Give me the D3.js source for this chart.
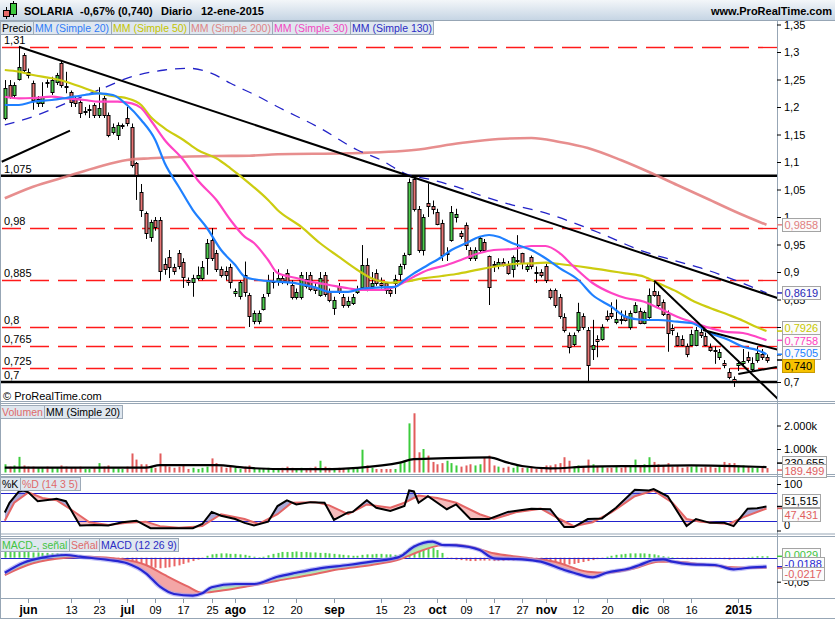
<!DOCTYPE html>
<html><head><meta charset="utf-8">
<script src="https://cdnjs.cloudflare.com/ajax/libs/d3/7.8.5/d3.min.js"></script>
<style>
html,body{margin:0;padding:0;background:#fff;}
svg{display:block;font-family:"Liberation Sans",Arial,Helvetica,sans-serif;}
</style></head><body>
<svg id="chart" width="835" height="620"></svg>
<script>
// ================= DATA =================
const firstDay = '2014-05-26', lastDay = '2015-01-12';
const holidays = ['2014-12-25','2014-12-26','2015-01-01'];

const openP = [
1.180,1.240,1.222,1.252,1.295,1.264,1.244,1.207,1.207,1.246,
1.227,1.245,1.280,1.238,1.227,1.216,1.209,1.193,1.195,1.204,
1.185,1.216,1.185,1.155,1.149,1.167,1.180,1.164,1.098,1.045,
1.007,0.964,0.995,0.995,0.915,0.928,0.909,0.934,0.919,0.885,
0.881,0.889,0.889,0.925,0.958,0.934,0.905,0.902,0.909,0.861,
0.855,0.895,0.858,0.810,0.810,0.834,0.861,0.882,0.884,0.889,
0.899,0.876,0.855,0.855,0.887,0.895,0.872,0.860,0.895,0.864,
0.834,0.874,0.855,0.840,0.845,0.865,0.873,0.913,0.875,0.899,
0.880,0.880,0.867,0.880,0.895,0.913,0.934,1.069,1.014,0.940,
1.025,1.020,1.010,0.989,0.935,0.960,1.000,0.971,0.985,0.940,
0.925,0.940,0.955,0.929,0.915,0.913,0.918,0.913,0.907,0.920,
0.934,0.905,0.928,0.900,0.900,0.910,0.867,0.867,0.855,0.819,
0.785,0.768,0.795,0.820,0.795,0.759,0.779,0.779,0.820,0.825,
0.809,0.814,0.820,0.800,0.828,0.829,0.808,0.819,0.866,0.859,
0.845,0.823,0.799,0.784,0.779,0.765,0.768,0.768,0.790,0.784,
0.764,0.758,0.745,0.734,0.719,0.705,0.730,0.735,0.745,0.725,
0.740,0.751,0.745];
const highP = [
1.249,1.249,1.245,1.310,1.298,1.270,1.248,1.220,1.245,1.250,
1.255,1.262,1.285,1.264,1.230,1.220,1.215,1.200,1.204,1.207,
1.236,1.220,1.190,1.170,1.172,1.170,1.200,1.170,1.100,1.060,
1.010,0.995,1.000,1.000,0.925,0.940,0.915,0.940,0.925,0.890,
0.895,0.910,0.920,0.960,0.980,0.940,0.910,0.910,0.915,0.870,
0.885,0.919,0.862,0.830,0.830,0.860,0.895,0.900,0.905,0.895,
0.905,0.885,0.870,0.900,0.900,0.900,0.880,0.900,0.900,0.870,
0.855,0.880,0.860,0.855,0.860,0.875,0.949,0.925,0.900,0.905,
0.890,0.880,0.870,0.895,0.915,0.935,1.070,1.075,1.020,1.005,
1.061,1.030,1.015,0.995,0.945,1.020,1.015,0.975,0.990,0.945,
0.945,0.965,0.960,0.930,0.920,0.925,0.925,0.920,0.930,0.967,
0.935,0.915,0.930,0.910,0.905,0.915,0.870,0.870,0.860,0.825,
0.790,0.790,0.844,0.825,0.800,0.813,0.785,0.805,0.830,0.845,
0.850,0.830,0.830,0.830,0.845,0.835,0.830,0.870,0.884,0.865,
0.850,0.830,0.805,0.790,0.785,0.770,0.795,0.800,0.800,0.790,
0.770,0.765,0.760,0.740,0.725,0.710,0.740,0.760,0.755,0.745,
0.765,0.760,0.750];
const lowP = [
1.176,1.215,1.215,1.248,1.262,1.252,1.195,1.200,1.200,1.235,
1.222,1.240,1.235,1.225,1.200,1.200,1.180,1.185,1.180,1.180,
1.180,1.180,1.145,1.150,1.140,1.160,1.165,1.090,1.031,1.000,
0.960,0.955,0.975,0.885,0.895,0.889,0.895,0.905,0.871,0.875,
0.855,0.885,0.885,0.895,0.920,0.900,0.890,0.885,0.870,0.855,
0.850,0.855,0.800,0.805,0.805,0.830,0.855,0.870,0.875,0.878,
0.876,0.850,0.850,0.850,0.870,0.865,0.860,0.855,0.855,0.845,
0.822,0.860,0.835,0.835,0.840,0.860,0.870,0.865,0.870,0.875,
0.870,0.860,0.855,0.860,0.885,0.905,0.930,1.010,0.935,0.930,
1.000,1.005,0.985,0.920,0.920,0.955,0.990,0.960,0.940,0.920,
0.920,0.935,0.940,0.840,0.900,0.905,0.910,0.895,0.890,0.910,
0.905,0.900,0.905,0.880,0.890,0.880,0.850,0.835,0.815,0.790,
0.752,0.765,0.790,0.795,0.700,0.740,0.745,0.775,0.810,0.815,
0.805,0.805,0.810,0.795,0.825,0.805,0.805,0.815,0.855,0.835,
0.820,0.755,0.785,0.765,0.765,0.745,0.765,0.765,0.780,0.765,
0.755,0.733,0.740,0.725,0.705,0.691,0.720,0.730,0.735,0.720,
0.735,0.740,0.735];
const closeP = [
1.235,1.218,1.240,1.273,1.267,1.258,1.213,1.215,1.218,1.244,
1.249,1.258,1.240,1.236,1.209,1.207,1.189,1.193,1.196,1.185,
1.198,1.185,1.149,1.164,1.167,1.168,1.171,1.095,1.076,1.013,
0.971,0.991,0.983,0.902,0.905,0.910,0.901,0.910,0.891,0.881,
0.889,0.895,0.909,0.953,0.925,0.905,0.895,0.895,0.881,0.865,
0.881,0.864,0.819,0.825,0.825,0.855,0.885,0.884,0.890,0.884,
0.882,0.855,0.864,0.895,0.875,0.870,0.866,0.890,0.860,0.849,
0.849,0.865,0.840,0.848,0.855,0.870,0.913,0.873,0.880,0.880,
0.877,0.867,0.862,0.888,0.910,0.930,1.064,1.014,0.940,1.000,
1.019,1.014,0.989,0.931,0.935,1.010,1.005,0.965,0.949,0.925,
0.940,0.961,0.940,0.873,0.913,0.918,0.913,0.898,0.928,0.922,
0.916,0.910,0.912,0.898,0.895,0.885,0.855,0.840,0.820,0.795,
0.764,0.785,0.828,0.800,0.731,0.767,0.775,0.800,0.814,0.820,
0.814,0.813,0.812,0.826,0.840,0.808,0.828,0.859,0.859,0.840,
0.823,0.789,0.795,0.768,0.768,0.751,0.788,0.795,0.785,0.768,
0.759,0.757,0.754,0.730,0.710,0.702,0.734,0.738,0.740,0.735,
0.752,0.745,0.740];
// volume, thousands of shares
const volumeK = [
350,250,300,665,300,250,250,200,200,250,
200,220,300,250,200,200,250,150,150,200,
400,250,300,200,180,150,250,810,550,350,
350,250,200,810,300,250,200,250,300,150,
200,150,200,250,600,400,250,200,250,200,
150,250,300,200,150,150,200,150,150,200,
250,200,150,200,150,200,250,500,250,200,
150,200,150,150,150,150,970,300,200,150,
150,150,150,150,400,500,2090,2520,860,1000,
720,450,350,400,500,400,300,250,300,350,
300,350,620,720,300,250,200,250,200,300,
200,200,250,150,150,300,300,350,400,650,
500,250,300,250,550,350,250,250,200,200,
250,200,250,300,550,300,350,650,450,350,
300,400,250,300,200,250,250,300,200,250,
250,200,300,450,400,400,300,300,250,200,
200,250,189.499];
// [day index, value] readings of the moving averages
const sma20 = [[0,1.2036],[3,1.2036],[6,1.2096],[10,1.2127],[13,1.2164],[17,1.2218],[20,1.2249],[23,1.2218],[26,1.2036],[29,1.1764],[32,1.14],[34,1.0982],[37,1.0551],[40,1.0127],[43,0.98],[46,0.94],[49,0.9127],[51,0.8915],[54,0.8855],[58,0.8824],[62,0.8794],[66,0.872],[69,0.864],[73,0.864],[76,0.87],[80,0.872],[83,0.873],[85,0.8855],[87,0.8976],[90,0.9127],[93,0.9278],[95,0.94],[98,0.9521],[101,0.9642],[103,0.9673],[105,0.9642],[108,0.9521],[112,0.94],[115,0.925],[118,0.907],[122,0.8855],[125,0.8582],[129,0.837],[132,0.8188],[136,0.8127],[139,0.8127],[143,0.8096],[146,0.8073],[150,0.789],[154,0.7764],[157,0.7642],[160,0.7582],[162,0.7505]];
const sma50 = [[0,1.2673],[3,1.2642],[6,1.2582],[10,1.2522],[13,1.246],[17,1.234],[20,1.2249],[24,1.2187],[26,1.2158],[29,1.2036],[31,1.1824],[34,1.1613],[38,1.14],[41,1.1218],[45,1.1067],[48,1.0885],[52,1.0613],[56,1.0309],[58,1.0127],[63,0.9824],[67,0.9527],[71,0.9278],[75,0.9036],[78,0.8885],[82,0.8805],[85,0.8824],[89,0.8885],[93,0.8927],[96,0.8964],[101,0.9049],[105,0.9109],[108,0.9145],[112,0.9158],[115,0.9169],[118,0.9145],[125,0.9067],[132,0.8976],[136,0.8915],[139,0.8794],[143,0.8642],[146,0.8491],[150,0.8345],[154,0.8218],[157,0.8115],[160,0.7995],[162,0.7926]];
const sma200 = [[0,1.034],[6,1.0551],[13,1.0733],[20,1.0915],[26,1.1036],[31,1.1067],[38,1.1096],[45,1.1109],[52,1.1115],[58,1.114],[73,1.1158],[87,1.1218],[97,1.1345],[105,1.1418],[112,1.1436],[118,1.1364],[124,1.1255],[131,1.1036],[137,1.0818],[143,1.0582],[150,1.0309],[156,1.0073],[162,0.9858]];
const sma30 = [[0,1.2187],[3,1.2158],[6,1.2164],[10,1.2187],[13,1.2158],[17,1.2127],[20,1.2096],[24,1.2096],[27,1.2067],[29,1.1982],[31,1.1764],[34,1.14],[38,1.1036],[41,1.0673],[45,1.0309],[48,0.9945],[51,0.9642],[53,0.9527],[56,0.9218],[58,0.8982],[62,0.8891],[65,0.8824],[69,0.8764],[73,0.8704],[76,0.8673],[80,0.8673],[83,0.8733],[87,0.8915],[90,0.9036],[94,0.9127],[97,0.9218],[101,0.9345],[104,0.94],[108,0.9418],[112,0.9473],[115,0.9473],[118,0.9345],[121,0.9097],[125,0.88],[129,0.8618],[132,0.8527],[136,0.846],[139,0.8345],[143,0.8187],[146,0.8096],[150,0.7982],[153,0.7915],[157,0.7891],[160,0.7818],[162,0.7758]];
const sma130 = [[0,1.1673],[6,1.1824],[13,1.2067],[20,1.2309],[27,1.2551],[34,1.2673],[39,1.2704],[44,1.2613],[48,1.2431],[54,1.2187],[58,1.2005],[67,1.1618],[75,1.1218],[80,1.1036],[85,1.0795],[91,1.0673],[96,1.0551],[102,1.0369],[108,1.0218],[114,1.0096],[126,0.9727],[136,0.9369],[142,0.9218],[148,0.9073],[162,0.8619]];
const volumeMA20 = [[0,205],[30,205],[33,317],[45,317],[51,205],[61,140],[68,140],[75,200],[84,420],[87,565],[94,610],[103,640],[107,420],[110,275],[116,175],[124,250],[135,275],[146,300],[155,275],[162,230]];
const stochK = [[0,38.8],[1,59.7],[3,84],[4,86],[5,82],[7,63],[10,66.7],[11,68],[13,63],[16,10.7],[19,12],[22,10.7],[25,17.8],[28,21],[31,5],[35,5],[40,5],[42,14],[44,40],[46,31.7],[49,24.7],[51,16.4],[53,10.7],[56,19],[58,52.6],[60,65],[62,56],[65,61],[68,59.7],[70,23],[73,38.8],[74,40],[77,65],[79,49],[82,42],[85,52.6],[86,86],[87,84],[88,59.7],[90,73.6],[94,45.7],[96,56],[99,24.7],[103,24.7],[107,40],[112,47],[116,45.7],[119,7.3],[121,7.3],[124,24.7],[127,26],[130,49],[134,87.6],[137,86],[138,89],[141,73.6],[145,9.4],[147,24.7],[150,16.4],[153,16.4],[155,9.4],[158,47],[160,48],[162,51.515]];
const stochD = [[0,21],[2,59.7],[5,82],[8,70],[11,65],[14,45.7],[18,17.8],[22,12],[26,16.4],[30,19],[33,9.4],[37,5.9],[42,9.4],[46,35],[51,24.7],[54,14],[58,35],[61,59.7],[66,61],[69,54],[73,35],[77,56],[82,49],[85,59.7],[88,75],[92,70],[96,59.7],[101,35],[104,24.7],[109,40],[114,47],[118,24.7],[121,9.4],[125,17.8],[129,38.8],[134,73.6],[138,86],[142,59.7],[145,24.7],[148,19],[154,14],[157,28.3],[162,47.431]];
const macdLine = [[0,-0.0313],[4,-0.0104],[8,0.0],[13,0.0056],[16,0.0021],[22,-0.0048],[26,-0.0117],[30,-0.0325],[33,-0.0604],[36,-0.0756],[40,-0.0792],[42,-0.0742],[44,-0.0617],[49,-0.0548],[53,-0.0548],[58,-0.0396],[62,-0.0313],[67,-0.0221],[73,-0.0152],[78,-0.0083],[84,0.0021],[87,0.0229],[91,0.0333],[93,0.0265],[96,0.0255],[101,0.016],[104,-0.0013],[110,-0.0033],[114,-0.0083],[119,-0.0256],[121,-0.0313],[125,-0.0408],[128,-0.0313],[133,-0.0221],[135,-0.0152],[138,-0.0048],[140,-0.0033],[142,-0.0083],[146,-0.0138],[151,-0.0152],[155,-0.0242],[159,-0.02],[162,-0.0188]];
const macdSignal = [[0,-0.036],[6,-0.0117],[13,0.0],[18,0.002],[25,-0.0033],[30,-0.0152],[34,-0.036],[39,-0.0604],[42,-0.0729],[47,-0.0673],[52,-0.059],[58,-0.0479],[65,-0.036],[71,-0.0242],[78,-0.0152],[84,-0.0033],[88,0.0125],[93,0.0262],[96,0.027],[99,0.0229],[104,0.0092],[110,0.0008],[117,-0.0083],[124,-0.0292],[128,-0.0313],[134,-0.0221],[139,-0.0083],[143,-0.0083],[148,-0.0138],[155,-0.02],[162,-0.0217]];
const macdHist = [
0.012,0.012,0.013,0.013,0.012,0.012,0.011,0.011,0.010,0.010,0.009,0.009,0.008,0.007,0.006,
0.005,0.004,0.002,0.001,
-0.002,-0.003,-0.004,-0.005,-0.006,-0.007,-0.008,-0.009,-0.011,-0.013,-0.015,-0.017,-0.019,-0.021,-0.022,-0.021,-0.020,-0.018,-0.016,-0.013,-0.010,-0.007,-0.004,
-0.001,
0.004,0.007,0.008,0.009,0.009,0.008,0.008,0.007,0.006,0.004,
0.002,0.001,0.002,
0.005,0.008,0.010,0.012,0.012,0.012,0.013,0.012,0.012,0.011,0.011,0.010,0.010,0.009,0.008,0.007,0.006,0.005,
0.004,0.004,
0.006,0.007,0.007,0.008,0.008,0.007,0.007,0.006,0.007,
0.012,0.020,0.026,0.028,0.026,0.024,0.020,0.016,0.010,
-0.002,-0.003,-0.004,-0.005,-0.006,-0.007,-0.007,-0.006,-0.006,-0.006,-0.007,-0.007,-0.007,-0.006,-0.006,-0.005,-0.005,-0.006,-0.007,-0.008,-0.009,-0.010,-0.011,-0.012,-0.013,-0.014,-0.014,-0.013,-0.011,-0.009,-0.007,-0.005,-0.003,-0.001,
0.002,0.004,0.006,0.007,0.008,0.009,0.009,0.009,0.009,0.008,0.007,0.005,0.003,0.002,0.001,
-0.001,-0.002,-0.003,-0.003,-0.003,-0.002,-0.002,-0.002,-0.002,-0.002,-0.003,-0.004,-0.003,-0.002,-0.001,
0.001,0.002,0.003,0.003,0.0029];
// horizontal support/resistance levels and drawn trend lines
const redLevels = [1.31, 0.98, 0.885, 0.8, 0.765, 0.725];
const blackLevels = [1.075, 0.7];
const levelLabels = [[1.31,'1,31'],[1.075,'1,075'],[0.98,'0,98'],[0.885,'0,885'],[0.8,'0,8'],[0.765,'0,765'],[0.725,'0,725'],[0.7,'0,7']];
const trendStart = [[3,1.3096],[-0.66,1.1005],[138.1,0.8842],[148.5,0.7945],[156,0.7145]];
const trendEnd   = [[118.1,0.9836],[13.87,1.1569],[160.6,0.7005],[160.6,0.7673],[164.2,0.7273]];
const trendExtend = [true,false,true,true,false];
// axis ticks
const priceTicks = [1.35,1.3,1.25,1.2,1.15,1.1,1.05,1,0.95,0.9,0.85,0.8,0.75,0.7];
const volumeTicks = [1000,2000];
const stochTicks = [0,100];
const stochBands = [80,20];
const macdTicks = [-0.05];
const xTickDates = ['2014-06-02','2014-06-13','2014-06-23','2014-07-01','2014-07-09','2014-07-17','2014-07-25','2014-08-01','2014-08-12','2014-08-20','2014-09-01','2014-09-15','2014-09-23','2014-10-01','2014-10-09','2014-10-17','2014-10-27','2014-11-03','2014-11-12','2014-11-20','2014-12-01','2014-12-08','2014-12-16','2015-01-02'];
const xTickLabels = ['jun','13','23','jul','09','17','25','ago','12','20','sep','15','23','oct','09','17','27','nov','12','20','dic','08','16','2015'];
// last values shown at the right
const lastMA = [[0.9858,'0,9858','#e08080'],[0.8619,'0,8619','#2828b8'],[0.7926,'0,7926','#c8c800'],[0.7758,'0,7758','#ff3fc0'],[0.7505,'0,7505','#1f7fff']];
const lastPrice = 0.740, lastPriceLabel = '0,740';
const title = ['SOLARIA','-0,67% (0,740)','Diario','12-ene-2015'];

// ================= LAYOUT =================
const svg = d3.select('#chart');
const W = 835, H = 620, XR = 777;
const FRAME = '#97a6b5';
const LEG = 10.5;
const defs = svg.append('defs');

function tradingDays(a, b, hol) {
  const out = [], hs = new Set(hol);
  let d = new Date(a + 'T00:00:00Z');
  const e = new Date(b + 'T00:00:00Z');
  while (d <= e) {
    const s = d.toISOString().slice(0, 10), wd = d.getUTCDay();
    if (wd !== 0 && wd !== 6 && !hs.has(s)) out.push(s);
    d = new Date(d.getTime() + 86400000);
  }
  return out;
}
const dates = tradingDays(firstDay, lastDay, holidays);
const N = dates.length;
const x = d3.scaleLinear().domain([0, N - 1]).range([4.8, 766.5]);

const PP = {top: 20, bottom: 401}, PV = {top: 403, bottom: 474}, PS = {top: 476, bottom: 533.5}, PM = {top: 536, bottom: 598};
const yP = d3.scaleLinear().domain([0.7, 1.3]).range([382, 52]);
const yV = d3.scaleLinear().domain([0, 2000]).range([472.5, 425.5]);
const yS = d3.scaleLinear().domain([0, 100]).range([530.5, 484]);
const yM = d3.scaleLinear().domain([-0.05, 0]).range([581.7, 557.7]);

svg.append('rect').attr('width', W).attr('height', H).attr('fill', '#fff');

// title bar
const tg = defs.append('linearGradient').attr('id', 'tb').attr('x1', 0).attr('y1', 0).attr('x2', 0).attr('y2', 1);
tg.append('stop').attr('offset', '0%').attr('stop-color', '#f3f6f9');
tg.append('stop').attr('offset', '100%').attr('stop-color', '#c6d5e4');
svg.append('rect').attr('x', 0).attr('y', 0).attr('width', W).attr('height', 20).attr('fill', 'url(#tb)');
const ic = svg.append('g');
ic.append('line').attr('x1', 6.5).attr('x2', 6.5).attr('y1', 7).attr('y2', 19).attr('stroke', '#000');
ic.append('rect').attr('x', 3.5).attr('y', 10.5).attr('width', 6).attr('height', 6).attr('fill', '#e66a6a').attr('stroke', '#000');
ic.append('line').attr('x1', 13.5).attr('x2', 13.5).attr('y1', 1).attr('y2', 17).attr('stroke', '#000');
ic.append('rect').attr('x', 10.5).attr('y', 3.5).attr('width', 6).attr('height', 11).attr('fill', '#3fc93f').attr('stroke', '#000');
const tx = [24, 80, 161, 201];
title.forEach((t, k) => svg.append('text').attr('x', tx[k]).attr('y', 15).attr('font-size', 11).attr('font-weight', 'bold').attr('fill', '#000').text(t));
svg.append('text').attr('x', 832).attr('y', 15).attr('text-anchor', 'end').attr('font-size', 11).attr('font-weight', 'bold').attr('fill', '#000').text('www.ProRealTime.com');

// panel frames
[PP, PV, PS, PM].forEach((p, k) => {
  svg.append('line').attr('x1', 0).attr('x2', W).attr('y1', p.top + 0.5).attr('y2', p.top + 0.5).attr('stroke', FRAME);
  svg.append('line').attr('x1', 0).attr('x2', W).attr('y1', p.bottom + 0.5).attr('y2', p.bottom + 0.5).attr('stroke', FRAME);
  defs.append('clipPath').attr('id', 'clip' + k).append('rect').attr('x', 1).attr('y', p.top + 1).attr('width', XR - 1).attr('height', p.bottom - p.top - 1);
});
svg.append('line').attr('x1', 0.5).attr('x2', 0.5).attr('y1', 20).attr('y2', 618).attr('stroke', FRAME);
svg.append('line').attr('x1', XR + 0.5).attr('x2', XR + 0.5).attr('y1', 20).attr('y2', 618).attr('stroke', FRAME);
svg.append('line').attr('x1', 0).attr('x2', W).attr('y1', 618.5).attr('y2', 618.5).attr('stroke', FRAME);

function legend(y, items) {
  let cx = 0.5;
  items.forEach(it => {
    const g = svg.append('g');
    const r = g.append('rect').attr('x', cx).attr('y', y + 0.5).attr('height', 13).attr('fill', '#dfe7ef').attr('stroke', '#9daab8');
    const t = g.append('text').attr('x', cx + 1.5).attr('y', y + 11).attr('font-size', LEG).attr('fill', it[1]).text(it[0]);
    const w = Math.ceil(t.node().getComputedTextLength()) + 3;
    r.attr('width', w);
    cx += w;
  });
}
function valueBoxes(items, h) {
  items.forEach(it => { it.y = it.y0; });
  const s = items.slice().sort((a, b) => a.y - b.y);
  for (let k = 0; k < 80; k++) for (let j = 1; j < s.length; j++) {
    const gap = s[j].y - s[j - 1].y;
    if (gap < h) { const m = (h - gap) / 2; s[j].y += m; s[j - 1].y -= m; }
  }
  items.forEach(it => {
    svg.append('line').attr('x1', XR).attr('x2', XR + 5).attr('y1', it.y0).attr('y2', it.y0).attr('stroke', it.tick || it.c).attr('stroke-width', 1.5);
    const g = svg.append('g');
    const r = g.append('rect').attr('x', 782.5).attr('y', Math.round(it.y - 6.5) + 0.5).attr('height', 13).attr('fill', it.bg || '#fbfbfb').attr('stroke', it.border || '#a4a4a4');
    const t = g.append('text').attr('x', 784.5).attr('y', Math.round(it.y - 6.5) + 11).attr('font-size', 11).attr('fill', it.c).text(it.t);
    r.attr('width', Math.ceil(t.node().getComputedTextLength()) + 4);
  });
}
function rightAxis(scale, ticks, fmt) {
  const ax = svg.append('g').attr('transform', `translate(${XR},0)`)
    .call(d3.axisRight(scale).tickValues(ticks).tickSize(4).tickPadding(3).tickFormat(fmt));
  ax.select('.domain').remove();
  ax.selectAll('line').attr('stroke', '#000');
  ax.selectAll('text').attr('font-size', 11).attr('fill', '#000').attr('font-family', '"Liberation Sans",Arial,sans-serif');
  return ax;
}
const comma = v => (+v.toFixed(4)).toString().replace('.', ',');

// ================= PRICE PANEL =================
const gp = svg.append('g').attr('clip-path', 'url(#clip0)');
gp.selectAll('line.rl').data(redLevels).join('line')
  .attr('x1', 2).attr('x2', XR).attr('y1', d => Math.round(yP(d)) + 0.5).attr('y2', d => Math.round(yP(d)) + 0.5)
  .attr('stroke', '#ff1a1a').attr('stroke-width', 1.3).attr('stroke-dasharray', '19,9');
gp.selectAll('line.bl').data(blackLevels).join('line')
  .attr('x1', 0).attr('x2', XR).attr('y1', d => yP(d)).attr('y2', d => yP(d))
  .attr('stroke', '#000').attr('stroke-width', 2.4);
gp.selectAll('text.ll').data(levelLabels).join('text')
  .attr('x', 4).attr('y', d => yP(d[0]) - 3).attr('font-size', 11).attr('fill', '#000').text(d => d[1]);

const idx = d3.range(N);
const xc = i => Math.round(x(i));
gp.selectAll('line.wick').data(idx).join('line')
  .attr('x1', i => xc(i) + 0.5).attr('x2', i => xc(i) + 0.5)
  .attr('y1', i => yP(highP[i])).attr('y2', i => yP(lowP[i]))
  .attr('stroke', '#000').attr('stroke-width', 1);
gp.selectAll('rect.body').data(idx).join('rect')
  .attr('x', i => xc(i) - 1)
  .attr('y', i => Math.round(yP(Math.max(openP[i], closeP[i]))) + 0.5)
  .attr('width', 3)
  .attr('height', i => Math.max(1, Math.round(yP(Math.min(openP[i], closeP[i])) - yP(Math.max(openP[i], closeP[i])))))
  .attr('fill', i => closeP[i] >= openP[i] ? '#4ccb4c' : '#e87575')
  .attr('stroke', '#000').attr('stroke-width', 1);

const maLine = d3.line().x(d => x(d[0])).y(d => yP(d[1])).curve(d3.curveMonotoneX);
gp.append('path').datum(sma200).attr('d', maLine).attr('fill', 'none').attr('stroke', '#e37a7a').attr('stroke-width', 2.6).attr('opacity', 0.85);
gp.append('path').datum(sma130).attr('d', maLine).attr('fill', 'none').attr('stroke', '#2323c8').attr('stroke-width', 1.3).attr('stroke-dasharray', '10,8');
gp.append('path').datum(sma50).attr('d', maLine).attr('fill', 'none').attr('stroke', '#cccc10').attr('stroke-width', 2.2);
gp.append('path').datum(sma30).attr('d', maLine).attr('fill', 'none').attr('stroke', '#ff44c4').attr('stroke-width', 2.2);
gp.append('path').datum(sma20).attr('d', maLine).attr('fill', 'none').attr('stroke', '#1f80ff').attr('stroke-width', 2.2);

trendStart.forEach((a, k) => {
  const b = trendEnd[k];
  let ex = b[0], ey = b[1];
  if (trendExtend[k]) { const xi = x.invert(XR + 2); ey = a[1] + (b[1] - a[1]) * (xi - a[0]) / (b[0] - a[0]); ex = xi; }
  gp.append('line').attr('x1', x(a[0])).attr('y1', yP(a[1])).attr('x2', x(ex)).attr('y2', yP(ey))
    .attr('stroke', '#000').attr('stroke-width', 2);
});
svg.append('text').attr('x', 3).attr('y', 400).attr('font-size', 11).attr('fill', '#000').text('\u00a9 ProRealTime.com');

legend(21, [['Precio', '#000'], ['MM (Simple 20)', '#2f7cf6'], ['MM (Simple 50)', '#c4c400'], ['MM (Simple 200)', '#de8585'], ['MM (Simple 30)', '#f247c0'], ['MM (Simple 130)', '#2c2cc4']]);
rightAxis(yP, priceTicks, v => comma(v));
valueBoxes(lastMA.map(d => ({y0: yP(d[0]), t: d[1], c: d[2]})).concat([{y0: yP(lastPrice), t: lastPriceLabel, c: '#000', bg: '#f7c200', border: '#c89a00', tick: '#000'}]), 12.5);

// ================= VOLUME PANEL =================
const gv = svg.append('g').attr('clip-path', 'url(#clip1)');
gv.selectAll('rect.v').data(idx).join('rect')
  .attr('x', i => xc(i) - 0.5).attr('width', 2)
  .attr('y', i => yV(volumeK[i])).attr('height', i => yV(0) - yV(volumeK[i]))
  .attr('fill', i => closeP[i] >= openP[i] ? '#3ccc3c' : '#e25c5c');
gv.append('path').datum(volumeMA20).attr('d', d3.line().x(d => x(d[0])).y(d => yV(d[1])).curve(d3.curveMonotoneX))
  .attr('fill', 'none').attr('stroke', '#000').attr('stroke-width', 2.2);
legend(405, [['Volumen', '#e06a6a'], ['MM (Simple 20)', '#000']]);
rightAxis(yV, volumeTicks, v => d3.format(',')(v).replace(',', '.') + 'k');
valueBoxes([{y0: yV(volumeMA20[volumeMA20.length - 1][1]) - 4, t: '230.655', c: '#000'}, {y0: yV(volumeK[N - 1]) + 2, t: '189.499', c: '#e06060', tick: '#e06060'}], 8);

// ================= STOCHASTIC PANEL =================
function diffFill(g, A, B, ys, p, colAB, colBA, curve, id) {
  const top = p.top, bot = p.bottom;
  defs.append('clipPath').attr('id', id + 'a').append('path').attr('d', d3.area().x(d => x(d[0])).y0(top).y1(d => ys(d[1])).curve(curve)(A));
  defs.append('clipPath').attr('id', id + 'b').append('path').attr('d', d3.area().x(d => x(d[0])).y0(bot).y1(d => ys(d[1])).curve(curve)(A));
  g.append('path').attr('clip-path', `url(#${id}a)`).attr('d', d3.area().x(d => x(d[0])).y0(bot).y1(d => ys(d[1])).curve(curve)(B)).attr('fill', colBA);
  g.append('path').attr('clip-path', `url(#${id}b)`).attr('d', d3.area().x(d => x(d[0])).y0(top).y1(d => ys(d[1])).curve(curve)(B)).attr('fill', colAB);
}
const gs = svg.append('g').attr('clip-path', 'url(#clip2)');
diffFill(gs, stochK, stochD, yS, PS, '#a9a9d8', '#f6bcbc', d3.curveLinear, 'st');
gs.selectAll('line.band').data(stochBands).join('line').attr('x1', 0).attr('x2', XR).attr('y1', d => Math.round(yS(d)) + 0.5).attr('y2', d => Math.round(yS(d)) + 0.5).attr('stroke', '#2222cc');
const sLine = d3.line().x(d => x(d[0])).y(d => yS(d[1]));
gs.append('path').datum(stochD).attr('d', sLine).attr('fill', 'none').attr('stroke', '#e46666').attr('stroke-width', 2);
gs.append('path').datum(stochK).attr('d', sLine).attr('fill', 'none').attr('stroke', '#000').attr('stroke-width', 2);
legend(477, [['%K', '#000'], ['%D (14 3 5)', '#e06a6a']]);
const sax = rightAxis(yS, stochTicks, d => d);
sax.selectAll('.tick').filter(d => d === 0).select('text').attr('dy', '-0.2em');
valueBoxes([{y0: yS(stochK[stochK.length - 1][1]), t: '51,515', c: '#000'}, {y0: yS(stochD[stochD.length - 1][1]), t: '47,431', c: '#e06060'}], 14);

// ================= MACD PANEL =================
const gm = svg.append('g').attr('clip-path', 'url(#clip3)');
gm.selectAll('rect.h').data(idx).join('rect')
  .attr('x', i => xc(i) - 0.5).attr('width', 2)
  .attr('y', i => Math.min(yM(0), yM(macdHist[i]))).attr('height', i => Math.abs(yM(macdHist[i]) - yM(0)))
  .attr('fill', i => macdHist[i] >= 0 ? '#4fd24f' : '#ea6464');
diffFill(gm, macdLine, macdSignal, yM, PM, '#b2eab2', '#f3a6a6', d3.curveMonotoneX, 'md');
gm.append('line').attr('x1', 0).attr('x2', XR).attr('y1', Math.round(yM(0)) + 0.5).attr('y2', Math.round(yM(0)) + 0.5).attr('stroke', '#2222cc');
const mLine = d3.line().x(d => x(d[0])).y(d => yM(d[1])).curve(d3.curveMonotoneX);
gm.append('path').datum(macdSignal).attr('d', mLine).attr('fill', 'none').attr('stroke', '#e46666').attr('stroke-width', 2);
gm.append('path').datum(macdLine).attr('d', mLine).attr('fill', 'none').attr('stroke', '#9a9af2').attr('stroke-width', 4.5).attr('opacity', 0.6);
gm.append('path').datum(macdLine).attr('d', mLine).attr('fill', 'none').attr('stroke', '#2626d2').attr('stroke-width', 2.2);
legend(538, [['MACD-, se\u00f1al', '#3fc43f'], ['Se\u00f1al', '#e06a6a'], ['MACD (12 26 9)', '#2c2cc4']]);
rightAxis(yM, macdTicks, v => comma(v));
valueBoxes([{y0: yM(macdHist[N - 1]), t: '0,0029', c: '#3fc43f'}, {y0: yM(macdLine[macdLine.length - 1][1]), t: '-0,0188', c: '#2626d2'}, {y0: yM(macdSignal[macdSignal.length - 1][1]), t: '-0,0217', c: '#e06060'}], 9.5);

// ================= X AXIS =================
const gx = svg.append('g');
xTickDates.forEach((d, k) => {
  const i = dates.indexOf(d);
  const px = Math.round(x(i)) + 0.5;
  const lab = xTickLabels[k];
  const isNum = /^\d{1,2}$/.test(lab);
  gx.append('line').attr('x1', px).attr('x2', px).attr('y1', 599).attr('y2', 603).attr('stroke', '#8a98a8');
  gx.append('text').attr('x', px).attr('y', 614).attr('text-anchor', 'middle')
    .attr('font-size', isNum ? 11 : 12).attr('font-weight', isNum ? 'normal' : 'bold').attr('fill', '#000').text(lab);
});
</script></body></html>
